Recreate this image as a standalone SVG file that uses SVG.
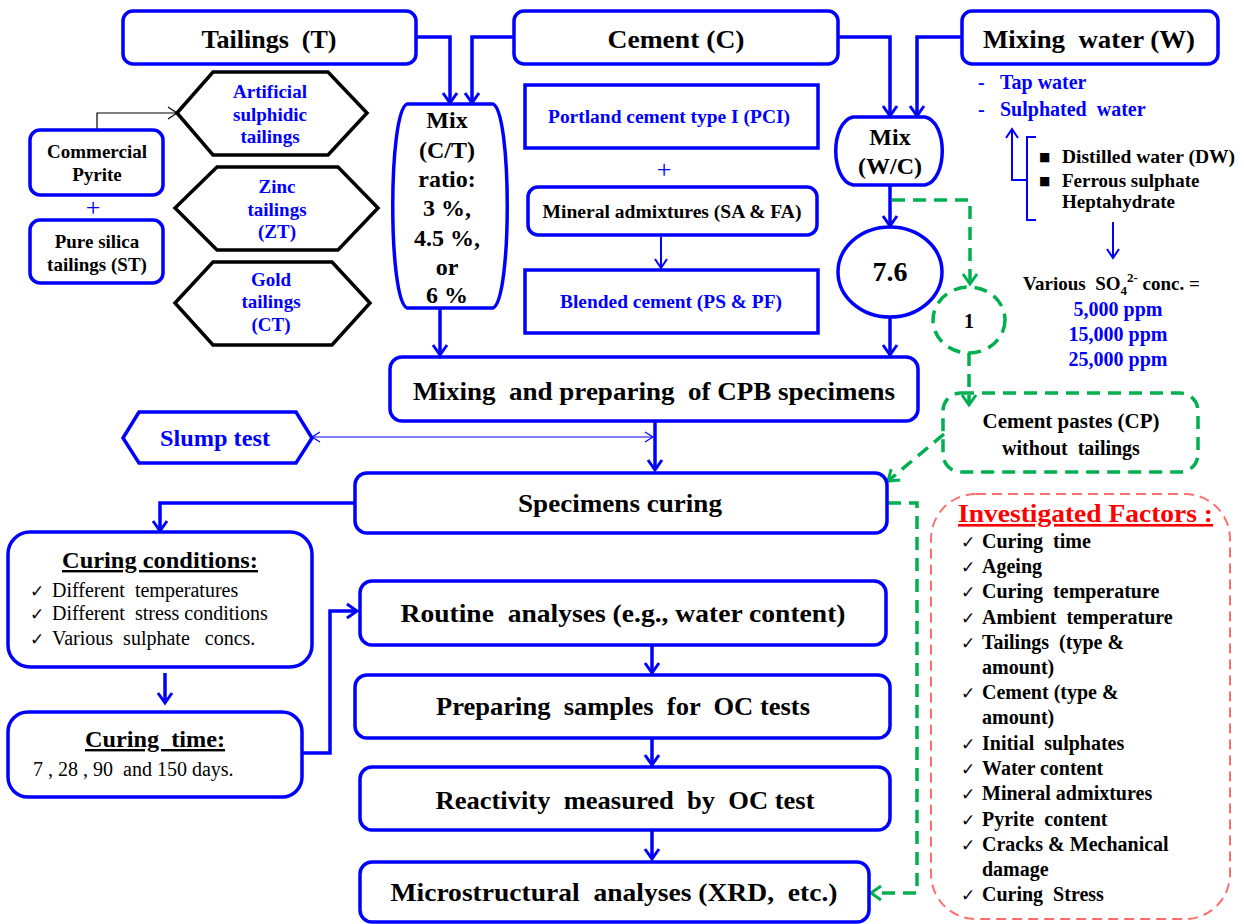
<svg xmlns="http://www.w3.org/2000/svg" width="1244" height="924" viewBox="0 0 1244 924">
<style>
text{font-family:"Liberation Serif","Times New Roman",serif;font-weight:bold;fill:#000;white-space:pre}
.b{fill:#0000FF}
.mid{text-anchor:middle}
.reg{font-weight:normal}
.box{fill:#fff;stroke:#0000FF;stroke-width:3.5}
.hex{fill:#fff;stroke:#000;stroke-width:3.5}
.ln{fill:none;stroke:#0000FF;stroke-width:3.5}
.thin{fill:none;stroke:#0000FF;stroke-width:2}
.gd{fill:none;stroke:#00B050;stroke-width:3.5;stroke-dasharray:13 8}
.rd{fill:none;stroke:#FF6F6F;stroke-width:2;stroke-dasharray:10 6}
.t26{font-size:26px}
.t24{font-size:24px}
.t20{font-size:20px}
.t19{font-size:19px}
.t18{font-size:18px}
.chk{font-family:"DejaVu Sans",sans-serif;font-weight:bold;font-size:17px}
</style>
<defs>
<marker id="ab" viewBox="0 0 16 16" refX="14" refY="8" markerWidth="16" markerHeight="16" markerUnits="userSpaceOnUse" orient="auto" overflow="visible"><path d="M4,1 L14,8 L4,15" fill="none" stroke="#0000FF" stroke-width="3"/></marker>
<marker id="abt" viewBox="0 0 14 14" refX="12" refY="7" markerWidth="14" markerHeight="14" markerUnits="userSpaceOnUse" orient="auto" overflow="visible"><path d="M3,1 L12,7 L3,13" fill="none" stroke="#0000FF" stroke-width="2"/></marker>
<marker id="as" viewBox="0 0 12 12" refX="11" refY="6" markerWidth="12" markerHeight="12" markerUnits="userSpaceOnUse" orient="auto-start-reverse" overflow="visible"><path d="M3,1 L11,6 L3,11" fill="none" stroke="#0000FF" stroke-width="1.2"/></marker>
<marker id="ak" viewBox="0 0 12 14" refX="11" refY="7" markerWidth="12" markerHeight="14" markerUnits="userSpaceOnUse" orient="auto" overflow="visible"><path d="M2,1 L11,7 L2,13" fill="none" stroke="#000" stroke-width="1.2"/></marker>
<marker id="ag" viewBox="0 0 16 16" refX="14" refY="8" markerWidth="16" markerHeight="16" markerUnits="userSpaceOnUse" orient="auto" overflow="visible"><path d="M4,1 L14,8 L4,15" fill="none" stroke="#00B050" stroke-width="3"/></marker>
</defs>
<rect width="1244" height="924" fill="#fff"/>

<g id="connectors">
<path class="ln" d="M416,37 H450 V103" marker-end="url(#ab)"/>
<path class="ln" d="M514,37 H472 V103" marker-end="url(#ab)"/>
<path class="ln" d="M838,37 H890 V116" marker-end="url(#ab)"/>
<path class="ln" d="M962,37 H917 V116" marker-end="url(#ab)"/>
<path class="ln" d="M890,186 V226" marker-end="url(#ab)"/>
<path class="ln" d="M890,318 V355" marker-end="url(#ab)"/>
<path class="ln" d="M440,308 V355" marker-end="url(#ab)"/>
<path class="thin" d="M661,237 V268" marker-end="url(#abt)"/>
<path fill="none" stroke="#000" stroke-width="1.2" d="M97,130 V113 H177" marker-end="url(#ak)"/>
<path class="ln" d="M655,421 V470" marker-end="url(#ab)"/>
<path fill="none" stroke="#0000FF" stroke-width="1.2" d="M312,437 H653" marker-start="url(#as)" marker-end="url(#as)"/>
<path class="ln" d="M355,503 H160 V531" marker-end="url(#ab)"/>
<path class="ln" d="M165,673 V703" marker-end="url(#ab)"/>
<path class="ln" d="M302,753 H330 V611 H357" marker-end="url(#ab)"/>
<path class="ln" d="M652,645 V673" marker-end="url(#ab)"/>
<path class="ln" d="M652,738 V765" marker-end="url(#ab)"/>
<path class="ln" d="M652,830 V859" marker-end="url(#ab)"/>
<path class="gd" d="M892,200 H970 V284" marker-end="url(#ag)"/>
<path class="gd" d="M969,353 V405" marker-end="url(#ag)"/>
<path class="gd" d="M944,434 L888,481" marker-end="url(#ag)"/>
<path class="gd" d="M888,503 H917 V893 H871" marker-end="url(#ag)"/>
<path class="thin" d="M1027,180 H1012 V129" marker-end="url(#abt)"/>
<path class="thin" d="M1036,137 H1027 V220 H1036"/>
<path class="thin" d="M1113,222 V258" marker-end="url(#abt)"/>
</g>

<g id="tailings"><rect class="box" x="123" y="11" width="293" height="53" rx="10"/><text class="t26 mid" x="269" y="48" textLength="135" lengthAdjust="spacingAndGlyphs">Tailings  (T)</text></g>
<g id="cement"><rect class="box" x="514" y="11" width="324" height="53" rx="10"/><text class="t26 mid" x="676" y="48" textLength="137" lengthAdjust="spacingAndGlyphs">Cement (C)</text></g>
<g id="water"><rect class="box" x="962" y="11" width="256" height="53" rx="10"/><text class="t26 mid" x="1089" y="48" textLength="212" lengthAdjust="spacingAndGlyphs">Mixing  water (W)</text></g>

<g id="pyrite"><rect class="box" x="30" y="130" width="133" height="65" rx="10"/><text class="t19 mid" x="97" y="158">Commercial</text><text class="t19 mid" x="97" y="181">Pyrite</text></g>
<g id="plus1"><text class="b mid" x="93" y="216" style="font-size:26px;font-weight:normal">+</text></g>
<g id="silica"><rect class="box" x="30" y="220" width="133" height="63" rx="10"/><text class="t19 mid" x="97" y="248">Pure silica</text><text class="t19 mid" x="97" y="271">tailings (ST)</text></g>

<g id="hex-artificial"><polygon class="hex" points="177,113 213,72 328,72 367,113 328,155 213,155"/><text class="t19 b mid" x="270" y="98">Artificial</text><text class="t19 b mid" x="270" y="121">sulphidic</text><text class="t19 b mid" x="270" y="143">tailings</text></g>
<g id="hex-zinc"><polygon class="hex" points="175,208 217,167 338,167 378,208 338,250 217,250"/><text class="t19 b mid" x="277" y="193">Zinc</text><text class="t19 b mid" x="277" y="216">tailings</text><text class="t19 b mid" x="277" y="238">(ZT)</text></g>
<g id="hex-gold"><polygon class="hex" points="175,303 213,262 332,262 370,303 332,345 213,345"/><text class="t19 b mid" x="271" y="286">Gold</text><text class="t19 b mid" x="271" y="308">tailings</text><text class="t19 b mid" x="271" y="331">(CT)</text></g>

<g id="mix-ct"><path class="box" d="M407,104 H493 C512,112 512,300 493,308 H407 C388,300 388,112 407,104 Z"/>
<text class="t24 mid" x="447"><tspan x="447" y="128">Mix</tspan><tspan x="447" y="158">(C/T)</tspan><tspan x="447" y="187">ratio:</tspan><tspan x="447" y="216">3 %,</tspan><tspan x="447" y="246">4.5 %,</tspan><tspan x="447" y="275">or</tspan><tspan x="447" y="303">6 %</tspan></text></g>

<g id="portland"><rect class="box" x="525" y="85" width="293" height="63"/><text class="t18 b mid" x="669" y="123" textLength="242" lengthAdjust="spacingAndGlyphs">Portland cement type I (PCI)</text></g>
<g id="plus2"><text class="b mid" x="664" y="178" style="font-size:26px;font-weight:normal">+</text></g>
<g id="mineral"><rect class="box" x="528" y="187" width="289" height="48" rx="10"/><text class="t18 mid" x="672" y="218" textLength="259" lengthAdjust="spacingAndGlyphs">Mineral admixtures (SA &amp; FA)</text></g>
<g id="blended"><rect class="box" x="525" y="270" width="293" height="63"/><text class="t18 b mid" x="671" y="308" textLength="222" lengthAdjust="spacingAndGlyphs">Blended cement (PS &amp; PF)</text></g>

<g id="mix-wc"><path class="box" d="M853,117 H925 C948,122 948,180 925,185 H853 C830,180 830,122 853,117 Z"/><text class="t24 mid" x="890" y="145">Mix</text><text class="t24 mid" x="890" y="174">(W/C)</text></g>
<g id="ratio76"><ellipse class="box" cx="890" cy="272" rx="52" ry="45"/><text class="mid" x="890" y="281" style="font-size:28px">7.6</text></g>
<g id="ratio1"><ellipse class="gd" cx="969" cy="320" rx="36" ry="33"/><text class="t20 mid" x="969" y="328">1</text></g>

<g id="water-types">
<text class="t20 b" x="978" y="89">-</text><text class="t20 b" x="1000" y="89">Tap water</text>
<text class="t20 b" x="978" y="116">-</text><text class="t20 b" x="1000" y="116">Sulphated  water</text>
<text x="1039" y="161" style="font-family:'DejaVu Sans',sans-serif;font-size:12px">■</text><text class="t19" x="1062" y="163" textLength="173" lengthAdjust="spacingAndGlyphs">Distilled water (DW)</text>
<text x="1039" y="185" style="font-family:'DejaVu Sans',sans-serif;font-size:12px">■</text><text class="t19" x="1062" y="187">Ferrous sulphate</text>
<text class="t19" x="1062" y="208">Heptahydrate</text>
</g>
<g id="sulphate-conc">
<text class="t19" x="1023" y="290">Various  SO<tspan style="font-size:13px" dy="5">4</tspan><tspan style="font-size:13px" dy="-13">2-</tspan><tspan dy="8"> conc. =</tspan></text>
<text class="t20 b mid" x="1118" y="316">5,000 ppm</text>
<text class="t20 b mid" x="1118" y="341">15,000 ppm</text>
<text class="t20 b mid" x="1118" y="366">25,000 ppm</text>
</g>

<g id="mixing"><rect class="box" x="390" y="357" width="528" height="64" rx="12"/><text class="t26 mid" x="654" y="400" textLength="482" lengthAdjust="spacingAndGlyphs">Mixing  and preparing  of CPB specimens</text></g>
<g id="slump"><polygon class="box" points="123,438 139,412 296,412 312,438 296,463 139,463"/><text class="t24 b mid" x="215" y="446" textLength="110" lengthAdjust="spacingAndGlyphs">Slump test</text></g>
<g id="cp"><rect class="gd" x="943" y="393" width="255" height="79" rx="18"/><text class="t20 mid" x="1071" y="428" textLength="177" lengthAdjust="spacingAndGlyphs">Cement pastes (CP)</text><text class="t20 mid" x="1071" y="455">without  tailings</text></g>
<g id="curing"><rect class="box" x="355" y="473" width="532" height="60" rx="12"/><text class="t26 mid" x="620" y="512" textLength="204" lengthAdjust="spacingAndGlyphs">Specimens curing</text></g>

<g id="conditions"><rect class="box" x="8" y="532" width="304" height="135" rx="22"/>
<text class="t24 mid" x="160" y="568" text-decoration="underline" textLength="196" lengthAdjust="spacingAndGlyphs">Curing conditions:</text>
<text class="chk reg" x="30" y="597" style="font-weight:normal">✓</text><text class="t20 reg" x="52" y="597">Different  temperatures</text>
<text class="chk reg" x="30" y="620" style="font-weight:normal">✓</text><text class="t20 reg" x="52" y="620">Different  stress conditions</text>
<text class="chk reg" x="30" y="645" style="font-weight:normal">✓</text><text class="t20 reg" x="52" y="645">Various  sulphate   concs.</text></g>
<g id="curing-time"><rect class="box" x="8" y="712" width="294" height="85" rx="20"/>
<text class="t24 mid" x="155" y="747" text-decoration="underline" textLength="140" lengthAdjust="spacingAndGlyphs">Curing  time:</text>
<text class="t20 reg" x="33" y="776">7 , 28 , 90  and 150 days.</text></g>

<g id="routine"><rect class="box" x="360" y="581" width="526" height="64" rx="12"/><text class="t26 mid" x="623" y="622" textLength="445" lengthAdjust="spacingAndGlyphs">Routine  analyses (e.g., water content)</text></g>
<g id="preparing"><rect class="box" x="355" y="675" width="535" height="63" rx="12"/><text class="t26 mid" x="623" y="715" textLength="374" lengthAdjust="spacingAndGlyphs">Preparing  samples  for  OC tests</text></g>
<g id="reactivity"><rect class="box" x="360" y="767" width="530" height="63" rx="12"/><text class="t26 mid" x="625" y="809" textLength="379" lengthAdjust="spacingAndGlyphs">Reactivity  measured  by  OC test</text></g>
<g id="micro"><rect class="box" x="360" y="862" width="509" height="60" rx="12"/><text class="t26 mid" x="614" y="901" textLength="447" lengthAdjust="spacingAndGlyphs">Microstructural  analyses (XRD,  etc.)</text></g>

<g id="factors"><rect class="rd" x="931" y="494" width="299" height="425" rx="45"/>
<text x="958" y="522" style="font-size:26px;fill:#FF0000" text-decoration="underline" textLength="255" lengthAdjust="spacingAndGlyphs">Investigated Factors :</text>
<g>
<text class="chk" x="961" y="548">✓</text><text class="t20" x="982" y="548">Curing  time</text>
<text class="chk" x="961" y="573">✓</text><text class="t20" x="982" y="573">Ageing</text>
<text class="chk" x="961" y="598">✓</text><text class="t20" x="982" y="598">Curing  temperature</text>
<text class="chk" x="961" y="624">✓</text><text class="t20" x="982" y="624">Ambient  temperature</text>
<text class="chk" x="961" y="649">✓</text><text class="t20" x="982" y="649">Tailings  (type &amp;</text>
<text class="t20" x="982" y="674">amount)</text>
<text class="chk" x="961" y="699">✓</text><text class="t20" x="982" y="699">Cement (type &amp;</text>
<text class="t20" x="982" y="724">amount)</text>
<text class="chk" x="961" y="750">✓</text><text class="t20" x="982" y="750">Initial  sulphates</text>
<text class="chk" x="961" y="775">✓</text><text class="t20" x="982" y="775">Water content</text>
<text class="chk" x="961" y="800">✓</text><text class="t20" x="982" y="800">Mineral admixtures</text>
<text class="chk" x="961" y="826">✓</text><text class="t20" x="982" y="826">Pyrite  content</text>
<text class="chk" x="961" y="851">✓</text><text class="t20" x="982" y="851">Cracks &amp; Mechanical</text>
<text class="t20" x="982" y="876">damage</text>
<text class="chk" x="961" y="901">✓</text><text class="t20" x="982" y="901">Curing  Stress</text>
</g></g>
</svg>
